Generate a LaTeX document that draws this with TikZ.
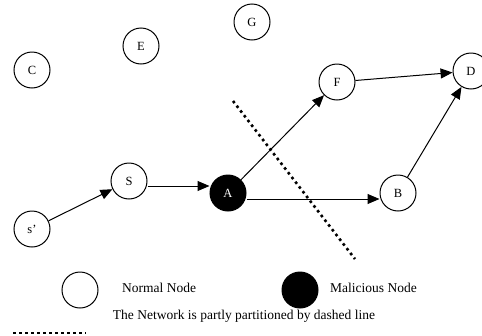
\documentclass[tikz,border=0pt]{standalone}
\usepackage{fontspec}
\setmainfont{Liberation Serif}
\usetikzlibrary{arrows.meta}
\begin{document}
\begin{tikzpicture}[x=1pt,y=-1pt,
  peer/.style={circle,draw,line width=1pt,minimum size=36pt,inner sep=0pt,font=\fontsize{12.5}{14}\selectfont},
  rogue/.style={peer,fill=black,text=white},
  link/.style={line width=1pt,-{Triangle[length=12pt,width=10pt]}},
  cut/.style={line width=2.6pt,dash pattern=on 2.6pt off 3.4pt},
  lbl/.style={font=\fontsize{13.5}{15}\selectfont,inner sep=0pt}]
\useasboundingbox (0,0) rectangle (482,335);
\begin{scope}
\clip (0,0) rectangle (482,335);
% network nodes
\node[peer] (G) at (252,22) {G};
\node[peer] (E) at (141,46) {E};
\node[peer] (C) at (32,70) {C};
\node[peer] (F) at (337,82) {F};
\node[peer] (D) at (471,71) {D};
\node[peer] (S) at (129,181) {S};
\node[rogue] (A) at (228,193) {A};
\node[peer] (B) at (398,193) {B};
\node[peer] (s1) at (32,229) {s'};
% routes
\draw[link] (s1) -- (S);
\draw[link] (S.east |- 0,186) -- (A.west |- 0,186);
\draw[link] (A) -- (F);
\draw[link] (A.east |- 0,199) -- (B.west |- 0,199);
\draw[link] (F) -- (D);
\draw[link] (B) -- (D);
% partition line
\coordinate (p1) at (233,101);
\coordinate (p2) at (355,259);
\draw[cut] (p1) -- (p2);
% legend
\node[peer] (ln) at (80,290) {};
\node[lbl,anchor=west] (lnt) at (122,288) {Normal Node};
\node[rogue] (lm) at (300,290) {};
\node[lbl,anchor=west] (lmt) at (330,288) {Malicious Node};
\node[lbl] (lct) at (244,316) {The Network is partly partitioned by dashed line};
\coordinate (q1) at (13,333);
\coordinate (q2) at (86,333);
\draw[cut] (q1) -- (q2);
\end{scope}
\end{tikzpicture}
\end{document}
